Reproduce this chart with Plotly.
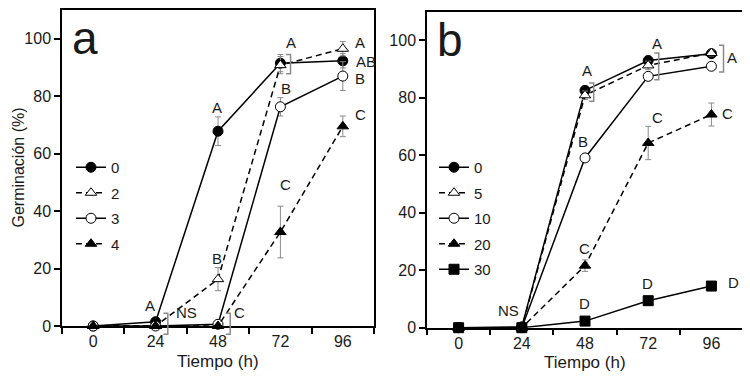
import plotly.graph_objects as go

# ---------------- data ----------------
hours = [0, 24, 48, 72, 96]
tick_labels = ["0", "24", "48", "72", "96"]

# Panel a
a_names = ["0", "2", "3", "4"]
a_vals = [
    [0, 1.5, 67.8, 91.5, 92.3],
    [0, 0, 16.3, 90.8, 96.5],
    [0, 0, 0.6, 76.3, 87.0],
    [0, 0, 0, 32.7, 69.5],
]
a_err = [
    [0, 0.5, 5.0, 3.0, 2.5],
    [0, 0, 4.0, 3.0, 2.5],
    [0, 0, 0, 3.2, 5.0],
    [0, 0, 0, 9.0, 3.6],
]
# Panel b
b_names = ["0", "5", "10", "20", "30"]
b_vals = [
    [0, 0.3, 82.6, 93.0, 95.4],
    [0, 0, 80.9, 91.3, 95.6],
    [0, 0, 59.1, 87.5, 91.0],
    [0, 0, 21.6, 64.3, 74.2],
    [0, 0, 2.3, 9.4, 14.5],
]
b_err = [
    [0, 0, 1.5, 1.5, 1.0],
    [0, 0, 1.5, 1.5, 1.0],
    [0, 0, 0, 0, 0],
    [0, 0, 2.0, 5.8, 4.0],
    [0, 0, 0.5, 0.5, 0.5],
]

# letter annotations (x, y, text)
a_letters = [(21.7, 7.3, "A"), (35.7, 4.6, "NS"), (56.1, 4.6, "C"), (47.7, 23.6, "B"),
             (47.7, 75.9, "A"), (74.0, 49.2, "C"), (74.1, 82.6, "B"), (75.9, 98.6, "A"),
             (102.7, 98.6, "A"), (104.8, 92.1, "AB"), (102.7, 86.2, "B"), (102.7, 73.6, "C")]
b_letters = [(19.0, 5.9, "NS"), (48.8, 89.6, "A"), (47.4, 64.7, "B"), (47.7, 27.6, "C"),
             (47.7, 8.5, "D"), (75.4, 98.9, "A"), (75.4, 73.1, "C"), (71.9, 15.4, "D"),
             (103.8, 94.0, "A"), (102.3, 74.7, "C"), (104.4, 15.6, "D")]
# brackets (x, y_top, y_bottom)
a_brackets = [(28.7, 4.4, -2.9), (52.7, 4.4, -2.9), (75.9, 94.5, 87.8)]
b_brackets = [(51.3, 85.2, 78.8), (76.0, 95.6, 86.3), (100.6, 98.3, 89.0)]

XR = [-12, 108]
YR = [0, 110]

FONT = "Liberation Sans, Arial, sans-serif"
TXT = "#1a1a1a"

# the page body has an 8px margin: size the figure to fit and map screen px -> paper
OFF = 8
W, H = 750 - OFF, 377 - OFF


def px(sx):
    return (sx - OFF) / W


def py(sy):
    return 1 - (sy - OFF) / H


styles_a = [
    dict(symbol="circle", fill="black", dash="solid"),
    dict(symbol="triangle-up", fill="white", dash="6px,4px"),
    dict(symbol="circle", fill="white", dash="solid"),
    dict(symbol="triangle-up", fill="black", dash="6px,4px"),
]
styles_b = [
    dict(symbol="circle", fill="black", dash="solid"),
    dict(symbol="triangle-up", fill="white", dash="6px,4px"),
    dict(symbol="circle", fill="white", dash="solid"),
    dict(symbol="triangle-up", fill="black", dash="6px,4px"),
    dict(symbol="square", fill="black", dash="solid"),
]

fig = go.Figure()


def add_series(names, vals, errs, styles, xa, ya, legend):
    for i, (n, v, e, s) in enumerate(zip(names, vals, errs, styles)):
        fig.add_trace(go.Scatter(
            x=hours, y=v, name=n, mode="lines+markers",
            xaxis=xa, yaxis=ya, legend=legend, legendgroup=legend + n,
            cliponaxis=False,
            line=dict(color="black", width=1.5, dash=s["dash"]),
            marker=dict(symbol=s["symbol"], size=10, color=s["fill"],
                        line=dict(color="black", width=1)),
            error_y=dict(type="data", array=e, color="#8a8a8a", thickness=1, width=3),
        ))


add_series(a_names, a_vals, a_err, styles_a, "x", "y", "legend")
add_series(b_names, b_vals, b_err, styles_b, "x2", "y2", "legend2")

anns = []
shapes = []


def dom(v, r):
    return (v - r[0]) / (r[1] - r[0])


for letters, brackets, xr, yr in [(a_letters, a_brackets, "x", "y"), (b_letters, b_brackets, "x2", "y2")]:
    for (x, y, t) in letters:
        anns.append(dict(x=x, y=y, xref=xr, yref=yr, text=t, showarrow=False,
                         xanchor="center", yanchor="middle",
                         font=dict(family=FONT, size=15, color=TXT)))
    for (x, y0, y1) in brackets:
        fx = dom(x, XR)
        fx0 = dom(x - 1.7, XR)
        fy0 = dom(y0, YR)
        fy1 = dom(y1, YR)
        shapes.append(dict(type="path", xref=xr + " domain", yref=yr + " domain",
                           path=f"M{fx0},{fy0} L{fx},{fy0} L{fx},{fy1} L{fx0},{fy1}",
                           line=dict(color="#8a8a8a", width=1.5)))

# panel labels
anns.append(dict(x=0.025, y=1.0, xref="x domain", yref="y domain", text="a", showarrow=False,
                 xanchor="left", yanchor="top", font=dict(family=FONT, size=46, color=TXT)))
anns.append(dict(x=0.025, y=1.0, xref="x2 domain", yref="y2 domain", text="b", showarrow=False,
                 xanchor="left", yanchor="top", font=dict(family=FONT, size=46, color=TXT)))

# axis titles
TITLE_FONT = dict(family=FONT, size=17, color=TXT)
anns.append(dict(x=px(218), y=py(361), xref="paper", yref="paper", text="Tiempo (h)",
                 xanchor="center", yanchor="middle", showarrow=False, font=TITLE_FONT))
anns.append(dict(x=px(585), y=py(362), xref="paper", yref="paper", text="Tiempo (h)",
                 xanchor="center", yanchor="middle", showarrow=False, font=TITLE_FONT))
anns.append(dict(x=px(17.5), y=py(168), xref="paper", yref="paper", text="Germinación (%)",
                 xanchor="center", yanchor="middle", showarrow=False, textangle=-90,
                 font=dict(family=FONT, size=16, color=TXT)))

axis_common = dict(
    range=XR, tickvals=hours, ticktext=tick_labels, ticks="outside", ticklen=0,
    minor=dict(tickvals=[-12, 12, 36, 60, 84, 108], ticks="outside", ticklen=6,
               tickcolor="black", tickwidth=1.5),
    showline=True, linecolor="black", linewidth=1.5, mirror=True, showgrid=False,
    zeroline=False, tickfont=dict(family=FONT, size=16, color=TXT), automargin=False,
)
yaxis_common = dict(
    range=YR, tickvals=[0, 20, 40, 60, 80, 100], ticks="outside", ticklen=6,
    tickcolor="black", tickwidth=1.5,
    showline=True, linecolor="black", linewidth=1.5, mirror=True, showgrid=False,
    zeroline=False, tickfont=dict(family=FONT, size=16, color=TXT), automargin=False,
)

legend_common = dict(bgcolor="rgba(0,0,0,0)", font=dict(family=FONT, size=15, color=TXT),
                     tracegroupgap=3, itemwidth=30, xanchor="left", yanchor="top")

fig.update_layout(
    width=W, height=H,
    margin=dict(l=0, r=0, t=0, b=0),
    plot_bgcolor="white", paper_bgcolor="white",
    xaxis=dict(domain=[px(62), px(374)], anchor="y", **axis_common),
    yaxis=dict(domain=[py(326), py(10)], anchor="x", **yaxis_common),
    xaxis2=dict(domain=[px(427), px(743)], anchor="y2", **axis_common),
    yaxis2=dict(domain=[py(327.7), py(11.7)], anchor="x2", **yaxis_common),
    legend=dict(x=px(71), y=py(151), **legend_common),
    legend2=dict(x=px(434), y=py(151), **legend_common),
    annotations=anns, shapes=shapes, showlegend=True,
)

fig.write_html("out.html")
